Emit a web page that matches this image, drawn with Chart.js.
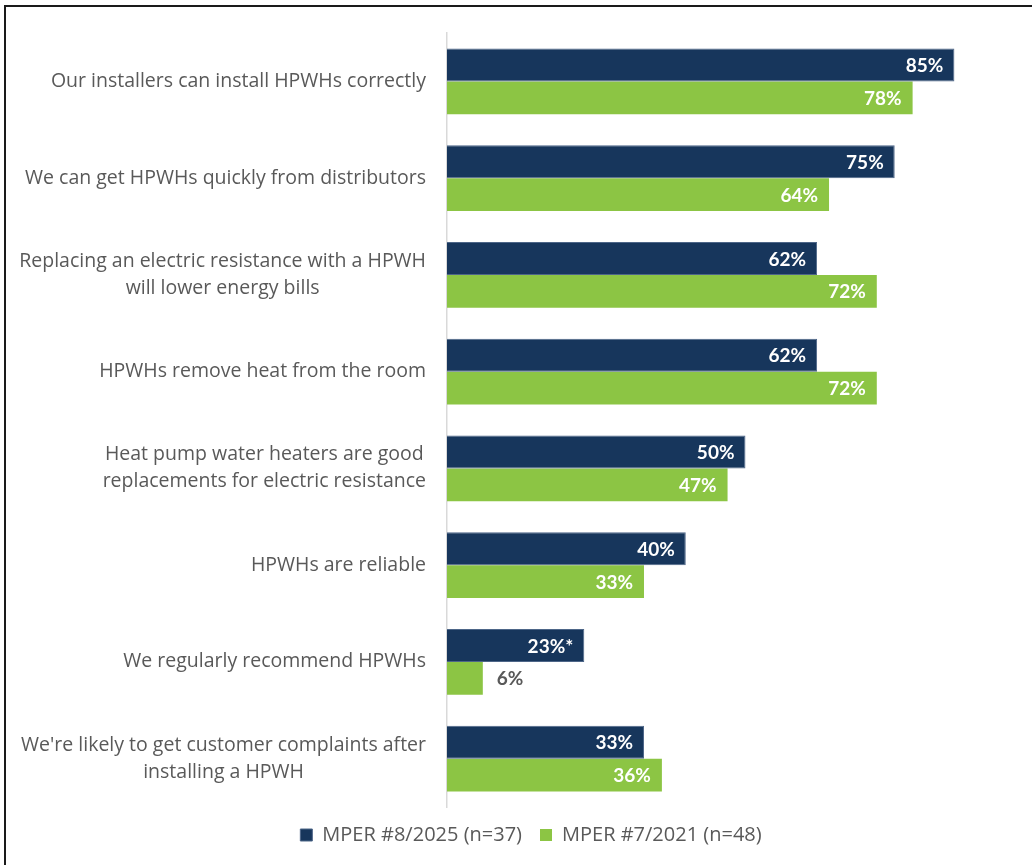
<!DOCTYPE html>
<html>
<head>
<meta charset="utf-8">
<script src="https://cdn.jsdelivr.net/npm/chart.js@4"></script>
<style>
  html, body { margin: 0; padding: 0; background: #fff; }
  #wrap { position: relative; width: 1032px; height: 865px; }
  #frame {
    position: absolute; left: 4px; top: 5px; right: 0; bottom: 0;
    border-left: 2px solid #1a1a1a; border-top: 2px solid #1a1a1a;
  }
  #chart { position: absolute; left: 0; top: 0; }
</style>
</head>
<body>
<div id="wrap">
  <div id="frame"></div>
  <canvas id="chart" width="1032" height="865"></canvas>
</div>
<script>
'use strict';

const categories = [
  'Our installers can install HPWHs correctly',
  'We can get HPWHs quickly from distributors',
  ['Replacing an electric resistance with a HPWH', 'will lower energy bills'],
  'HPWHs remove heat from the room',
  ['Heat pump water heaters are good', 'replacements for electric resistance'],
  'HPWHs are reliable',
  'We regularly recommend HPWHs',
  ["We're likely to get customer complaints after", 'installing a HPWH']
];

const seriesNames = ['MPER #8/2025 (n=37)', 'MPER #7/2021 (n=48)'];
const mper2025 = [85, 75, 62, 62, 50, 40, 23, 33];
const mper2021 = [78, 64, 72, 72, 47, 33, 6, 36];
// footnote marks appended to value labels
const notes2025 = ['', '', '', '', '', '', '*', ''];
const notes2021 = ['', '', '', '', '', '', '', ''];

const NAVY  = '#17365c';
const GREEN = '#8cc544';
const GRAY  = '#595959';
const FONT  = '"Open Sans", Lato, sans-serif';
const BOLD  = 'Lato, "Open Sans", sans-serif';

// category labels: block right-aligned to the axis, lines centred inside it
const catLabels = {
  id: 'catLabels',
  afterDraw(chart) {
    const { ctx } = chart;
    const y = chart.scales.y;
    const right = y.right - 21;
    const lh = 27;
    ctx.save();
    ctx.font = '19.5px ' + FONT;
    ctx.fillStyle = GRAY;
    ctx.textAlign = 'center';
    ctx.textBaseline = 'middle';
    categories.forEach((c, i) => {
      const lines = Array.isArray(c) ? c : [c];
      const w = Math.max(...lines.map(l => ctx.measureText(l).width));
      const cx = right - w / 2;
      const cy = y.getPixelForTick(i);
      lines.forEach((l, k) => {
        ctx.fillText(l, cx, cy + (k - (lines.length - 1) / 2) * lh);
      });
    });
    ctx.restore();
  }
};

// value labels: inside the bar end in white, outside in gray if too short
const valueLabels = {
  id: 'valueLabels',
  afterDatasetsDraw(chart) {
    const { ctx } = chart;
    const notes = [notes2025, notes2021];
    ctx.save();
    ctx.font = 'bold 19px ' + BOLD;
    ctx.textBaseline = 'middle';
    chart.data.datasets.forEach((ds, i) => {
      chart.getDatasetMeta(i).data.forEach((bar, j) => {
        const text = ds.data[j] + '%' + notes[i][j];
        const w = ctx.measureText(text).width;
        if (bar.x - bar.base > w + 20) {
          ctx.fillStyle = '#fff';
          ctx.textAlign = 'right';
          ctx.fillText(text, bar.x - 11, bar.y + 1);
        } else {
          ctx.fillStyle = GRAY;
          ctx.textAlign = 'left';
          ctx.fillText(text, bar.x + 14, bar.y + 1);
        }
      });
    });
    ctx.restore();
  }
};

new Chart(document.getElementById('chart'), {
  type: 'bar',
  data: {
    labels: categories,
    datasets: [
      { label: seriesNames[0], data: mper2025, backgroundColor: NAVY,
        borderColor: '#4d6688', borderWidth: 1, borderSkipped: 'left' },
      { label: seriesNames[1], data: mper2021, backgroundColor: GREEN, borderWidth: 0 }
    ]
  },
  options: {
    indexAxis: 'y',
    responsive: false,
    animation: false,
    layout: { padding: { left: 30, right: 0, top: 33, bottom: 10 } },
    datasets: { bar: { categoryPercentage: 0.68, barPercentage: 1.0 } },
    scales: {
      x: { display: false, min: 0, max: 98 },
      y: {
        grid: { display: false },
        border: { display: true, color: '#d9d9d9', width: 1.5 },
        ticks: { display: false },
        afterFit: s => { s.width = 447 - 30; }
      }
    },
    plugins: {
      legend: {
        position: 'bottom',
        labels: {
          boxWidth: 12, boxHeight: 12, padding: 18,
          color: GRAY, font: { family: FONT, size: 20 }
        }
      },
      tooltip: { enabled: false }
    }
  },
  plugins: [catLabels, valueLabels]
});
</script>
</body>
</html>
